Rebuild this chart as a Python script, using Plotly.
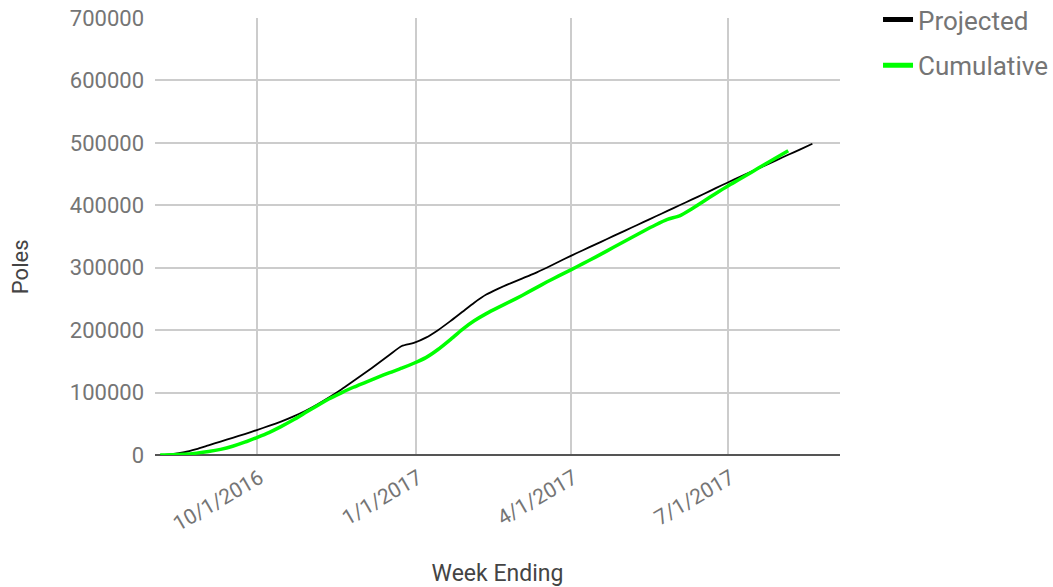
import plotly.graph_objects as go

proj_dates = [
    "2016-08-06", "2016-08-13", "2016-08-20", "2016-08-27", "2016-09-03", "2016-09-10",
    "2016-09-17", "2016-09-24", "2016-10-01", "2016-10-08", "2016-10-15", "2016-10-22",
    "2016-10-29", "2016-11-05", "2016-11-12", "2016-11-19", "2016-11-26", "2016-12-03",
    "2016-12-10", "2016-12-17", "2016-12-24", "2016-12-31", "2017-01-07", "2017-01-14",
    "2017-01-21", "2017-01-28", "2017-02-04", "2017-02-11", "2017-02-18", "2017-02-25",
    "2017-03-04", "2017-03-11", "2017-03-18", "2017-03-25", "2017-04-01", "2017-04-08",
    "2017-04-15", "2017-04-22", "2017-04-29", "2017-05-06", "2017-05-13", "2017-05-20",
    "2017-05-27", "2017-06-03", "2017-06-10", "2017-06-17", "2017-06-24", "2017-07-01",
    "2017-07-08", "2017-07-15", "2017-07-22", "2017-07-29", "2017-08-05", "2017-08-12",
    "2017-08-19",
]
projected = [
    0, 1500, 4500, 9500, 15500, 21500, 27500, 33500, 40000, 46500, 53500, 61500,
    70500, 81000, 92500, 105000, 118500, 132000, 146000, 160500, 174500, 179500,
    188000, 200000, 214000, 229000, 244000, 257000, 266500, 275000, 283000, 291000,
    300000, 309500, 319000, 328000, 337000, 346000, 355000, 364000, 373000, 382000,
    391000, 400000, 409000, 418000, 427500, 436500, 445500, 454500, 463000, 472000,
    481000, 489500, 498500,
]
cum_dates = proj_dates[:53]
cumulative = [
    0, 300, 1200, 3000, 5500, 9000, 14000, 20500, 28000, 36000, 45500, 56000,
    67500, 79000, 90000, 99500, 108500, 116500, 124500, 132000, 139000, 147000,
    156000, 169000, 184500, 201000, 215000, 226500, 236500, 246000, 256000, 266500,
    277000, 287000, 296500, 306500, 316500, 327000, 337500, 348000, 358500, 368500,
    377500, 383000, 394000, 406500, 419000, 431000, 442000, 453500, 465000, 476000,
    487500,
]
x_tickvals = ["2016-10-01", "2017-01-01", "2017-04-01", "2017-07-01"]
x_ticktext = ["10/1/2016", "1/1/2017", "4/1/2017", "7/1/2017"]

FONT = "Roboto, Arial, sans-serif"
GRAY = "#757575"
TITLE_GRAY = "#444444"

fig = go.Figure()
fig.add_trace(go.Scatter(
    x=proj_dates, y=projected, mode="lines", name="Projected",
    line=dict(color="#000000", width=1.8, shape="spline", smoothing=0.6),
    showlegend=False,
))
fig.add_trace(go.Scatter(
    x=cum_dates, y=cumulative, mode="lines", name="Cumulative",
    line=dict(color="#00ff00", width=3.5, shape="spline", smoothing=0.6),
    showlegend=False,
))
# legend entries (thick keys as in the reference)
fig.add_trace(go.Scatter(
    x=[None], y=[None], mode="lines", name="Projected",
    line=dict(color="#000000", width=5), legendgroup="a", showlegend=True,
))
fig.add_trace(go.Scatter(
    x=[None], y=[None], mode="lines", name="Cumulative",
    line=dict(color="#00ff00", width=5), legendgroup="b", showlegend=True,
))

fig.update_layout(
    width=1053, height=587,
    margin=dict(l=155, r=213, t=18, b=132, autoexpand=False),
    paper_bgcolor="white", plot_bgcolor="white",
    font=dict(family=FONT, size=22, color=GRAY),
    showlegend=True,
    legend=dict(
        x=1.0555, y=1.05, xanchor="left", yanchor="top",
        font=dict(family=FONT, size=26, color=GRAY),
        traceorder="grouped", tracegroupgap=9,
        itemwidth=30, bgcolor="rgba(0,0,0,0)",
    ),
    xaxis=dict(
        range=["2016-08-03", "2017-09-04"],
        tickvals=x_tickvals, ticktext=x_ticktext,
        tickangle=-30,
        showgrid=True, gridcolor="#cccccc", gridwidth=1.5,
        showline=False, zeroline=False, automargin=False,
        ticks="", ticklabelstandoff=6, ticklabelshift=3, ticklabeloverflow="allow",
        tickfont=dict(family=FONT, size=21, color=GRAY),
        title=dict(text="Week Ending", font=dict(family=FONT, size=23, color=TITLE_GRAY), standoff=40),
    ),
    yaxis=dict(
        range=[0, 700000], dtick=100000, tickformat="d",
        showgrid=True, gridcolor="#cccccc", gridwidth=1.5,
        zeroline=True, zerolinecolor="#555555", zerolinewidth=2,
        showline=False, automargin=False,
        tickfont=dict(family=FONT, size=22, color=GRAY),
        ticks="", ticklabelstandoff=10, ticklabeloverflow="allow",
    ),
    annotations=[dict(
        text="Poles", textangle=-90, showarrow=False,
        xref="paper", yref="paper", x=-0.197, y=0.43,
        xanchor="center", yanchor="middle",
        font=dict(family=FONT, size=22, color=TITLE_GRAY),
    )],
)

fig.write_html(
    "out.html",
    config={"displayModeBar": False},
    post_script="document.body.style.margin='0px';",
)
